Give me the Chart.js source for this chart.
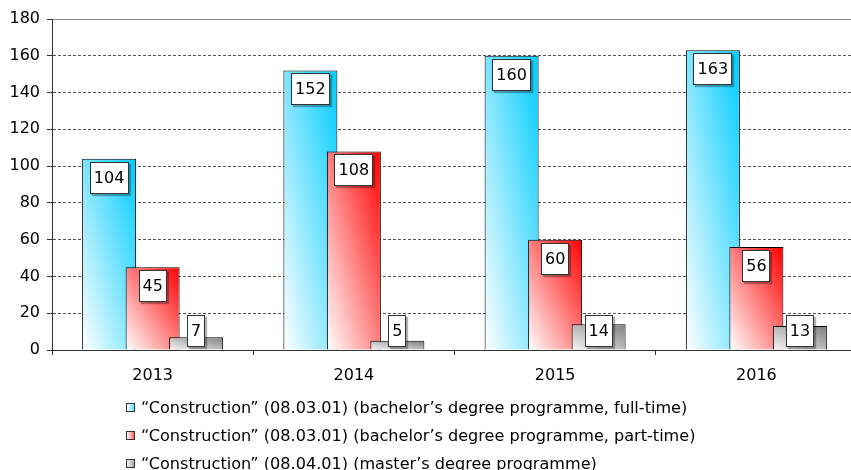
<!DOCTYPE html>
<html><head><meta charset="utf-8">
<script src="https://cdn.jsdelivr.net/npm/chart.js@4"></script>
<style>
html,body{margin:0;padding:0;background:#fff;overflow:hidden;}
#wrap{position:relative;width:851px;height:470px;overflow:hidden;}
#c{position:absolute;left:0;top:0;}
#legend{position:absolute;left:126px;top:393px;font-family:"DejaVu Sans",Verdana,sans-serif;font-size:16.1px;color:#000;}
.item{height:28.2px;display:flex;align-items:center;white-space:nowrap;}
.mk{width:7px;height:7px;border:1px solid #333;margin-right:6px;flex:none;}
</style>
</head><body>
<div id="wrap"><canvas id="c" width="858" height="470"></canvas><div id="legend"></div></div>
<script>
const categories = ['2013', '2014', '2015', '2016'];
const seriesLabels = [
  '\u201cConstruction\u201d (08.03.01) (bachelor\u2019s degree programme, full-time)',
  '\u201cConstruction\u201d (08.03.01) (bachelor\u2019s degree programme, part-time)',
  '\u201cConstruction\u201d (08.04.01) (master\u2019s degree programme)'
];
const fullTime = [104, 152, 160, 163];
const partTime = [45, 108, 60, 56];
const master = [7, 5, 14, 13];
const yTickStep = 20;
const yMax = 180;
const seriesEndColors = ['#00CCFF', '#FF0000', '#7F7F7F'];
const seriesStartColors = ['#FFFFFF', '#FFFFFF', '#F4F4F4'];
const seriesValues = [fullTime, partTime, master];
const barOverlapScale = 1.241;

function applyGradients(chart, di) {
  const ctx = chart.ctx;
  chart.getDatasetMeta(di).data.forEach(el => {
    if (el.$w0 === undefined) el.$w0 = el.width;
    el.width = el.$w0 * barOverlapScale;
    const left = el.x - el.width / 2, w = el.width, bottom = el.base, h = el.base - el.y;
    if (h <= 0) return;
    const d = h * h + w * w;
    const a = 2 * w * h * h / d, b = 2 * w * w * h / d;
    const g = ctx.createLinearGradient(left, bottom, left + a, bottom - b);
    g.addColorStop(0, seriesStartColors[di]);
    g.addColorStop(1, seriesEndColors[di]);
    el.options.backgroundColor = g;
  });
}

function drawLabels(chart) {
  const ctx = chart.ctx;
  ctx.save();
  ctx.font = '16px "DejaVu Sans"';
  ctx.textAlign = 'center';
  ctx.textBaseline = 'middle';
  chart.data.datasets.forEach((ds, di) => {
    chart.getDatasetMeta(di).data.forEach((el, i) => {
      const txt = String(ds.data[i]);
      const tw = ctx.measureText(txt).width;
      const bw = Math.round(tw + 8), bh = 32;
      let top = Math.round(el.y + 3);
      if (top + bh > el.base - 3) top = Math.round(el.base - 3 - bh);
      const left = Math.round(el.x - bw / 2);
      ctx.save();
      ctx.shadowColor = 'rgba(0,0,0,0.3)';
      ctx.shadowOffsetX = 2; ctx.shadowOffsetY = 2; ctx.shadowBlur = 1;
      ctx.fillStyle = '#fff';
      ctx.fillRect(left, top, bw, bh);
      ctx.restore();
      ctx.strokeStyle = '#333';
      ctx.lineWidth = 1;
      ctx.strokeRect(left + 0.5, top + 0.5, bw - 1, bh - 1);
      ctx.fillStyle = '#000';
      ctx.fillText(txt, el.x, top + bh / 2 + 1);
    });
  });
  ctx.restore();
}

const barPlugin = {
  id: 'overlapBars',
  beforeDatasetDraw() { return false; },
  afterDatasetsDraw(chart) {
    for (let di = 0; di < chart.data.datasets.length; di++) {
      applyGradients(chart, di);
      chart.getDatasetMeta(di).controller.draw();
    }
    drawLabels(chart);
  }
};

const datasets = seriesValues.map((vals, i) => ({
  label: seriesLabels[i],
  data: vals,
  backgroundColor: () => seriesEndColors[i],
  borderColor: '#000',
  borderWidth: 1,
  categoryPercentage: 0.6485,
  barPercentage: 1
}));

new Chart(document.getElementById('c'), {
  type: 'bar',
  data: { labels: categories, datasets },
  options: {
    responsive: false,
    animation: false,
    layout: { padding: { top: 19, right: 1, bottom: 80, left: 0 } },
    plugins: { legend: { display: false }, tooltip: { enabled: false } },
    scales: {
      x: {
        grid: { display: true, drawOnChartArea: false, tickLength: 5, color: '#333' },
        border: { color: '#333' },
        ticks: { font: { family: 'DejaVu Sans', size: 16 }, color: '#000', padding: 11 },
        afterFit(s) { s.height = 40; }
      },
      y: {
        min: 0, max: yMax,
        ticks: { stepSize: yTickStep, font: { family: 'DejaVu Sans', size: 16 }, color: '#000', padding: 7 },
        grid: {
          color: c => (c.tick && c.tick.value === yMax) ? '#888' : '#555',
          tickLength: 5, tickColor: '#333'
        },
        border: { color: '#333', dash: c => (c.tick && c.tick.value === yMax) ? [] : [3, 2] },
        afterFit(s) { s.width = 52; }
      }
    }
  },
  plugins: [barPlugin]
});

const lg = document.getElementById('legend');
seriesLabels.forEach((t, i) => {
  const row = document.createElement('div');
  row.className = 'item';
  const mk = document.createElement('span');
  mk.className = 'mk';
  mk.style.background = 'linear-gradient(90deg,' + seriesStartColors[i] + ' 0%,' + seriesEndColors[i] + ' 160%)';
  const tx = document.createElement('span');
  tx.textContent = t;
  row.appendChild(mk); row.appendChild(tx);
  lg.appendChild(row);
});
</script>
</body></html>
